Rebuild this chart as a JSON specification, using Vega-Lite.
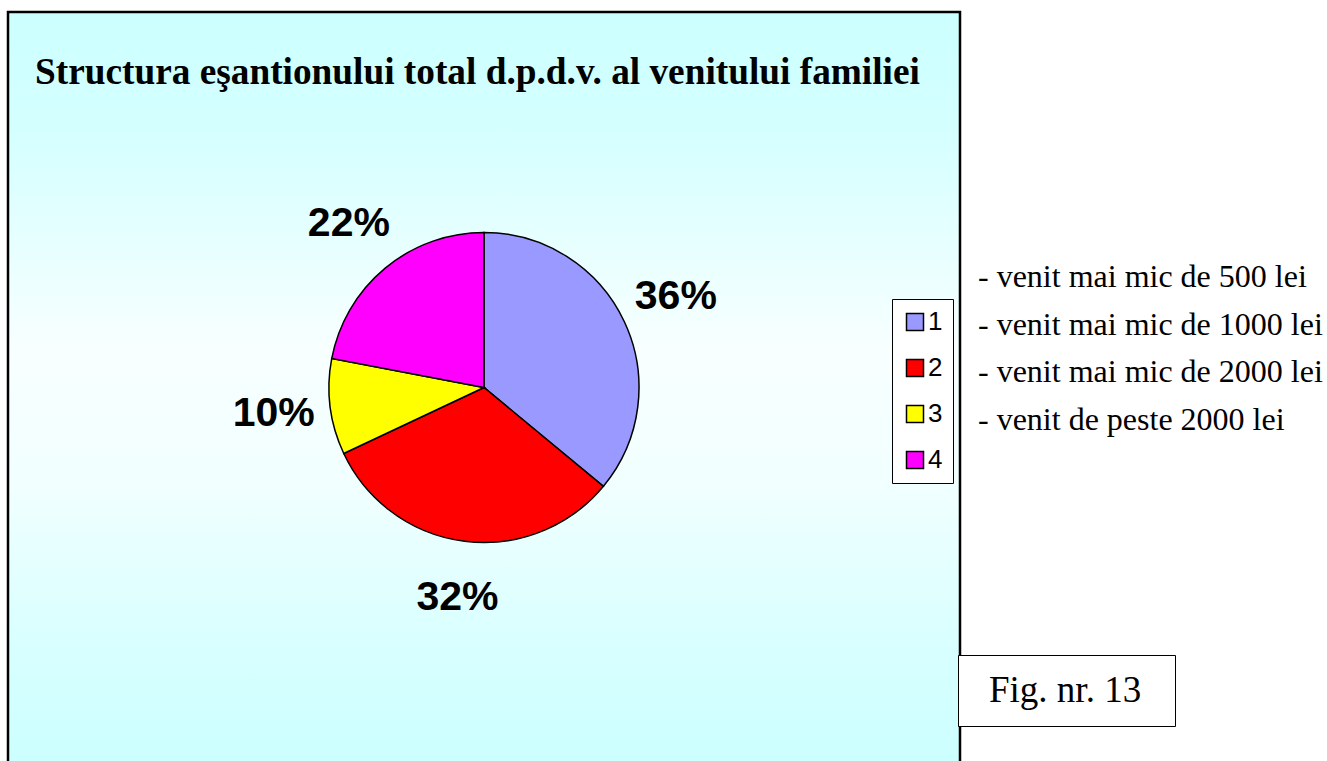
{
  "$schema": "https://vega.github.io/schema/vega-lite/v6.json",
  "width": 952,
  "height": 751,
  "autosize": {"type": "none"},
  "padding": {"left": 8, "top": 12, "right": 367, "bottom": -2},
  "background": "white",
  "config": {"view": {"stroke": null}},
  "title": {
    "text": "Structura eşantionului total d.p.d.v. al venitului familiei",
    "anchor": "start",
    "frame": "group",
    "orient": "top",
    "offset": -82,
    "dx": 27,
    "font": "Liberation Serif",
    "fontSize": 37.3,
    "fontWeight": "bold",
    "color": "black"
  },
  "data": {
    "values": [
      {"cat": "1", "pct": 0.36, "desc": "- venit mai mic de 500 lei"},
      {"cat": "2", "pct": 0.32, "desc": "- venit mai mic de 1000 lei"},
      {"cat": "3", "pct": 0.10, "desc": "- venit mai mic de 2000 lei"},
      {"cat": "4", "pct": 0.22, "desc": "- venit de peste  2000 lei"}
    ]
  },
  "layer": [
    {
      "data": {"values": [{}]},
      "mark": {
        "type": "rect",
        "stroke": "black",
        "strokeWidth": 2.5,
        "color": {
          "gradient": "linear",
          "x1": 0, "y1": 0, "x2": 0, "y2": 1,
          "stops": [
            {"offset": 0, "color": "#ccffff"},
            {"offset": 0.15, "color": "#d4ffff"},
            {"offset": 0.45, "color": "#f8ffff"},
            {"offset": 0.62, "color": "#f2ffff"},
            {"offset": 0.85, "color": "#d8ffff"},
            {"offset": 1, "color": "#ccffff"}
          ]
        }
      },
      "encoding": {}
    },
    {
      "mark": {"type": "arc", "outerRadius": 155, "stroke": "black", "strokeWidth": 1.5},
      "encoding": {
        "theta": {"field": "pct", "type": "quantitative", "stack": true},
        "order": {"field": "cat", "type": "ordinal"},
        "color": {
          "field": "cat",
          "type": "nominal",
          "scale": {"domain": ["1", "2", "3", "4"], "range": ["#9999ff", "#ff0000", "#ffff00", "#ff00ff"]},
          "legend": {
            "orient": "none",
            "legendX": 884,
            "legendY": 287,
            "title": null,
            "symbolType": "square",
            "symbolSize": 289,
            "symbolStrokeColor": "black",
            "symbolStrokeWidth": 1.5,
            "labelFont": "Liberation Sans",
            "labelFontSize": 26,
            "labelColor": "black",
            "labelOffset": 0,
            "rowPadding": 20,
            "padding": 10,
            "fillColor": "white",
            "strokeColor": "black"
          }
        }
      }
    },
    {
      "mark": {"type": "text", "radius": 212, "font": "Liberation Sans", "fontSize": 41, "fontWeight": "bold", "color": "black"},
      "encoding": {
        "theta": {"field": "pct", "type": "quantitative", "stack": true},
        "order": {"field": "cat", "type": "ordinal"},
        "text": {"field": "pct", "type": "quantitative", "format": ".0%"}
      }
    },
    {
      "mark": {"type": "point", "opacity": 0},
      "encoding": {
        "shape": {
          "field": "desc",
          "type": "nominal",
          "scale": {"domain": ["- venit mai mic de 500 lei", "- venit mai mic de 1000 lei", "- venit mai mic de 2000 lei", "- venit de peste  2000 lei"]},
          "legend": {
            "orient": "none",
            "legendX": 938,
            "legendY": 249,
            "title": null,
            "symbolSize": 0,
            "symbolOpacity": 0,
            "labelFont": "Liberation Serif",
            "labelFontSize": 32,
            "labelColor": "black",
            "labelOffset": 0,
            "labelLimit": 500,
            "rowPadding": 15.7,
            "padding": 0
          }
        }
      }
    },
    {
      "data": {"values": [{"fig": "Fig. nr. 13"}]},
      "mark": {"type": "point", "opacity": 0},
      "encoding": {
        "strokeDash": {
          "field": "fig",
          "type": "nominal",
          "legend": {
            "orient": "none",
            "legendX": 950,
            "legendY": 643,
            "title": ".",
            "titleOrient": "right",
            "titleFontSize": 4,
            "titleColor": "white",
            "titleOpacity": 0,
            "titlePadding": 15,
            "symbolSize": 0,
            "symbolOpacity": 0,
            "symbolStrokeWidth": 0,
            "labelFont": "Liberation Serif",
            "labelFontSize": 37,
            "labelColor": "black",
            "labelOffset": -23,
            "labelLimit": 500,
            "padding": 17,
            "fillColor": "white",
            "strokeColor": "black"
          }
        }
      }
    }
  ]
}
